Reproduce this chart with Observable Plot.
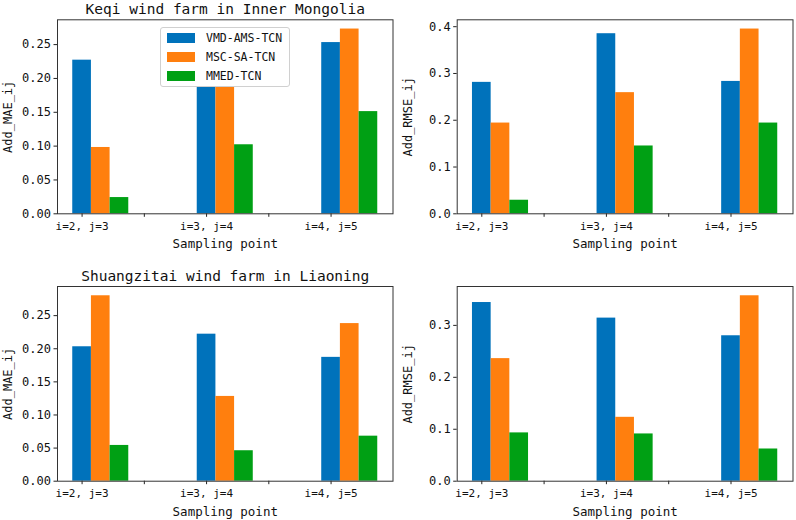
<!DOCTYPE html>
<html><head><meta charset="utf-8">
<script src="https://cdn.jsdelivr.net/npm/d3@7"></script>
<script src="https://cdn.jsdelivr.net/npm/@observablehq/plot@0.6"></script>
<style>
body{margin:0;background:#fff;}
#wrap{position:relative;width:796px;height:520px;font-family:"DejaVu Sans Mono",monospace;}
.panel{position:absolute;}
.legend{position:absolute;background:#fff;border:1px solid #d0d0d0;border-radius:3px;box-sizing:border-box;font-family:"DejaVu Sans Mono",monospace;font-size:11.5px;color:#111;}
.legend .row{position:absolute;left:0;height:12px;display:flex;align-items:center;}
.legend .sw{width:28px;height:10px;margin-left:6px;margin-right:11px;}
</style></head><body><div id="wrap"></div>
<script>
// ---- data ----
const groups = ["i=2, j=3", "i=3, j=4", "i=4, j=5"];
const models = ["VMD-AMS-TCN", "MSC-SA-TCN", "MMED-TCN"];
const colors = ["#0072bb", "#ff7f0e", "#00a014"];

// Keqi wind farm in Inner Mongolia
const keqiMAE_VMD  = [0.227, 0.215, 0.253];
const keqiMAE_MSC  = [0.098, 0.205, 0.273];
const keqiMAE_MMED = [0.024, 0.102, 0.151];
const keqiRMSE_VMD  = [0.281, 0.385, 0.283];
const keqiRMSE_MSC  = [0.194, 0.259, 0.395];
const keqiRMSE_MMED = [0.029, 0.145, 0.194];

// Shuangzitai wind farm in Liaoning
const shuangMAE_VMD  = [0.203, 0.222, 0.187];
const shuangMAE_MSC  = [0.280, 0.128, 0.238];
const shuangMAE_MMED = [0.054, 0.046, 0.068];
const shuangRMSE_VMD  = [0.344, 0.314, 0.280];
const shuangRMSE_MSC  = [0.236, 0.123, 0.357];
const shuangRMSE_MMED = [0.093, 0.091, 0.062];

const maeTicks  = [0, 0.05, 0.10, 0.15, 0.20, 0.25];
const rmseTicksTop = [0, 0.1, 0.2, 0.3, 0.4];
const rmseTicksBottom = [0, 0.1, 0.2, 0.3];
const xTicks = [0, 0.5, 1, 1.5, 2];

const titles = ["Keqi wind farm in Inner Mongolia", "Shuangzitai wind farm in Liaoning"];
const xLabel = "Sampling point";

// ---- drawing ----
const barW = 0.15;
const font = "DejaVu Sans Mono, monospace";

function makePanel(cfg) {
  const rows = [];
  cfg.series.forEach((vals, m) => vals.forEach((v, g) => rows.push({g, m, v, model: models[m]})));
  const lo = -barW / 2, hi = (groups.length - 1) + 2 * barW + barW / 2;
  const pad = (hi - lo) * 0.05;
  const yMax = d3.max(rows, d => d.v) * 1.05;
  const marks = [
    Plot.rect(rows, {
      x1: d => d.g + (d.m - 0.5) * barW,
      x2: d => d.g + (d.m + 0.5) * barW,
      y1: 0, y2: "v",
      fill: "model"
    }),
    Plot.axisY({ticks: cfg.ticks, tickFormat: d3.format(cfg.fmt), tickSize: 3.5, tickPadding: 3, fontSize: 12, label: null, stroke: "#222"}),
    Plot.axisX({ticks: xTicks, tickFormat: d => Number.isInteger(d) ? groups[d] : "", tickSize: 3.5, tickPadding: 4.5, fontSize: 11, label: null, stroke: "#222"}),
    Plot.frame({stroke: "#333", strokeWidth: 1}),
    Plot.text([cfg.ylabel], {frameAnchor: "left", text: d => d, rotate: -90, dx: -49, fontSize: 12, textAnchor: "middle", fill: "#111"}),
    Plot.text([xLabel], {frameAnchor: "bottom", text: d => d, dy: 34.5, lineAnchor: "bottom", fontSize: 12.5, fill: "#111"})
  ];
  if (cfg.title) marks.push(Plot.text([cfg.title], {frameAnchor: "top", text: d => d, dy: -6, lineAnchor: "bottom", fontSize: 14.5, fill: "#111"}));
  const svg = Plot.plot({
    width: 398, height: 260,
    marginTop: cfg.mt, marginBottom: cfg.mb, marginLeft: cfg.ml, marginRight: cfg.mr,
    style: {fontFamily: font, background: "#fff", color: "#111"},
    x: {type: "linear", domain: [lo - pad, hi + pad], axis: null},
    y: {domain: [0, yMax], axis: null},
    color: {domain: models, range: colors},
    marks
  });
  svg.classList.add("panel");
  svg.style.left = cfg.left + "px";
  svg.style.top = cfg.top + "px";
  return svg;
}

const wrap = document.getElementById("wrap");
const panels = [
  {left: 0,   top: 0,   title: titles[0], ylabel: "Add_MAE_ij",  series: [keqiMAE_VMD, keqiMAE_MSC, keqiMAE_MMED], ticks: maeTicks, fmt: ".2f", mt: 19.3, mb: 46.7, ml: 57, mr: 5.5},
  {left: 398, top: 0,   title: null,      ylabel: "Add_RMSE_ij", series: [keqiRMSE_VMD, keqiRMSE_MSC, keqiRMSE_MMED], ticks: rmseTicksTop, fmt: ".1f", mt: 19.3, mb: 46.7, ml: 58.7, mr: 3.5},
  {left: 0,   top: 260, title: titles[1], ylabel: "Add_MAE_ij",  series: [shuangMAE_VMD, shuangMAE_MSC, shuangMAE_MMED], ticks: maeTicks, fmt: ".2f", mt: 26, mb: 39.3, ml: 57, mr: 5.5},
  {left: 398, top: 260, title: null,      ylabel: "Add_RMSE_ij", series: [shuangRMSE_VMD, shuangRMSE_MSC, shuangRMSE_MMED], ticks: rmseTicksBottom, fmt: ".1f", mt: 26, mb: 39.3, ml: 58.7, mr: 3.5}
];
panels.forEach(p => wrap.appendChild(makePanel(p)));

// legend (upper center of first panel)
const leg = document.createElement("div");
leg.className = "legend";
leg.style.left = "160px"; leg.style.top = "27px"; leg.style.width = "130px"; leg.style.height = "60px";
models.forEach((m, i) => {
  const r = document.createElement("div");
  r.className = "row";
  r.style.top = (3.5 + i * 19.2) + "px";
  const sw = document.createElement("div");
  sw.className = "sw"; sw.style.background = colors[i];
  const t = document.createElement("span");
  t.textContent = m;
  r.appendChild(sw); r.appendChild(t);
  leg.appendChild(r);
});
wrap.appendChild(leg);
</script>
</body></html>
